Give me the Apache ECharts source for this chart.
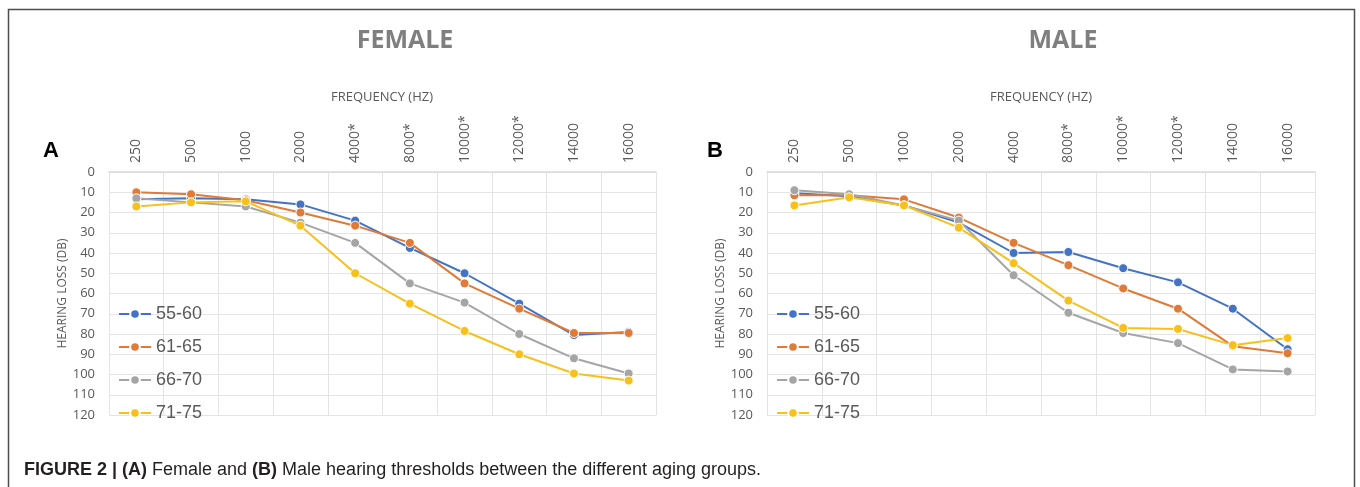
<!DOCTYPE html>
<html>
<head>
<meta charset="utf-8">
<script src="https://cdn.jsdelivr.net/npm/echarts@6/dist/echarts.min.js"></script>
<style>
html,body{margin:0;padding:0;background:#fff;}
#chart{width:1360px;height:487px;}
</style>
</head>
<body>
<div id="chart"></div>
<script>
// ---- data ----
const femaleFreq = ['250','500','1000','2000','4000*','8000*','10000*','12000*','14000','16000'];
const maleFreq   = ['250','500','1000','2000','4000','8000*','10000*','12000*','14000','16000'];
const groups = ['55-60','61-65','66-70','71-75'];
const yTicks = [0,10,20,30,40,50,60,70,80,90,100,110,120];

const female_55_60 = [13.5, 13, 13.5, 16, 24, 37.5, 50, 65, 80.5, 79];
const female_61_65 = [10, 11, 14, 20, 26.5, 35, 55, 67.5, 79.5, 79.5];
const female_66_70 = [13, 15, 17, 25, 35, 55, 64.5, 80, 92, 99.5];
const female_71_75 = [17, 15, 14.5, 26.5, 50, 65, 78.5, 90, 99.5, 103];

const male_55_60 = [10.5, 12, 16.5, 25, 40, 39.5, 47.5, 54.5, 67.5, 87.5];
const male_61_65 = [11.5, 11.5, 13.5, 22.5, 35, 46, 57.5, 67.5, 86, 89.5];
const male_66_70 = [9, 11, 16.5, 24, 51, 69.5, 79.5, 84.5, 97.5, 98.5];
const male_71_75 = [16.5, 12.5, 16.5, 27.5, 45, 63.5, 77, 77.5, 85.5, 82];

const colors = ['#4472C4', '#E07A36', '#A5A5A5', '#F8C01A'];

// ---- build ----
const femaleData = [female_55_60, female_61_65, female_66_70, female_71_75];
const maleData = [male_55_60, male_61_65, male_66_70, male_71_75];

const axisFont = 'Open Sans, sans-serif';
const labelColor = '#595959';
const gridColor = '#e4e4e4';

function xAxis(idx, cats) {
  return {
    type: 'category', gridIndex: idx, position: 'top', data: cats, boundaryGap: true,
    axisLine: {show: true, lineStyle: {color: '#d9d9d9', width: 1.5}},
    axisTick: {show: false},
    axisLabel: {rotate: 90, margin: 9, fontSize: 14, color: labelColor, fontFamily: axisFont},
    splitLine: {show: true, lineStyle: {color: gridColor, width: 1}}
  };
}
function yAxis(idx) {
  return {
    type: 'value', gridIndex: idx, inverse: true, min: yTicks[0], max: yTicks[yTicks.length-1], interval: 10,
    name: 'HEARING LOSS (DB)', nameLocation: 'middle', nameGap: 40, nameRotate: 90,
    nameTextStyle: {fontSize: 12, color: labelColor, fontFamily: axisFont},
    axisLine: {show: false}, axisTick: {show: false},
    axisLabel: {margin: 14, fontSize: 13, color: labelColor, fontFamily: axisFont},
    splitLine: {show: true, lineStyle: {color: gridColor, width: 1}}
  };
}
function series(idx, dataSets) {
  return dataSets.map((d, i) => ({
    type: 'line', name: groups[i], xAxisIndex: idx, yAxisIndex: idx, data: d,
    symbol: 'circle', symbolSize: 9, z: 2 + i,
    lineStyle: {color: colors[i], width: 2},
    itemStyle: {color: colors[i], borderColor: '#fff', borderWidth: 1}
  }));
}
function legend(left) {
  return {
    orient: 'vertical', left: left, top: 305, padding: 0, itemWidth: 32, itemHeight: 12, itemGap: 15,
    data: groups,
    lineStyle: {width: 2},
    textStyle: {fontSize: 18, color: labelColor, fontFamily: 'Arial, Liberation Sans, sans-serif', lineHeight: 18},
    selectedMode: false
  };
}

const chart = echarts.init(document.getElementById('chart'), null, {renderer: 'canvas'});
chart.setOption({
  animation: false,
  backgroundColor: '#fff',
  color: colors,
  grid: [
    {left: 109, top: 172, width: 547, height: 243},
    {left: 767, top: 172, width: 548, height: 243}
  ],
  xAxis: [xAxis(0, femaleFreq), xAxis(1, maleFreq)],
  yAxis: [yAxis(0), yAxis(1)],
  legend: [legend(118), legend(776)],
  series: series(0, femaleData).concat(series(1, maleData)),
  graphic: [
    {type: 'rect', shape: {x: 8.5, y: 9.5, width: 1346, height: 520}, style: {fill: 'none', stroke: '#4d4d4d', lineWidth: 1.5}, z: 0, silent: true},
    {type: 'text', x: 405, y: 40.5, style: {text: 'FEMALE', font: 'bold 25px "Open Sans", sans-serif', fill: '#7f7f7f', textAlign: 'center', textVerticalAlign: 'middle'}},
    {type: 'text', x: 1063, y: 40.5, style: {text: 'MALE', font: 'bold 25px "Open Sans", sans-serif', fill: '#7f7f7f', textAlign: 'center', textVerticalAlign: 'middle'}},
    {type: 'text', x: 382, y: 97, style: {text: 'FREQUENCY (HZ)', font: '13px "Open Sans", sans-serif', fill: labelColor, textAlign: 'center', textVerticalAlign: 'middle'}},
    {type: 'text', x: 1041, y: 97, style: {text: 'FREQUENCY (HZ)', font: '13px "Open Sans", sans-serif', fill: labelColor, textAlign: 'center', textVerticalAlign: 'middle'}},
    {type: 'text', x: 51, y: 151, style: {text: 'A', font: 'bold 22px Arial, "Liberation Sans", sans-serif', fill: '#000', textAlign: 'center', textVerticalAlign: 'middle'}},
    {type: 'text', x: 715, y: 151, style: {text: 'B', font: 'bold 22px Arial, "Liberation Sans", sans-serif', fill: '#000', textAlign: 'center', textVerticalAlign: 'middle'}},
    {type: 'text', x: 24, y: 470, style: {
      text: '{b|FIGURE 2 | (A)} Female and {b|(B)} Male hearing thresholds between the different aging groups.',
      font: '18px Arial, "Liberation Sans", sans-serif', fill: '#231f20', textVerticalAlign: 'middle',
      rich: {b: {fontWeight: 'bold', fontSize: 18, fontFamily: 'Arial, "Liberation Sans", sans-serif', fill: '#231f20'}}
    }}
  ]
});
</script>
</body>
</html>
